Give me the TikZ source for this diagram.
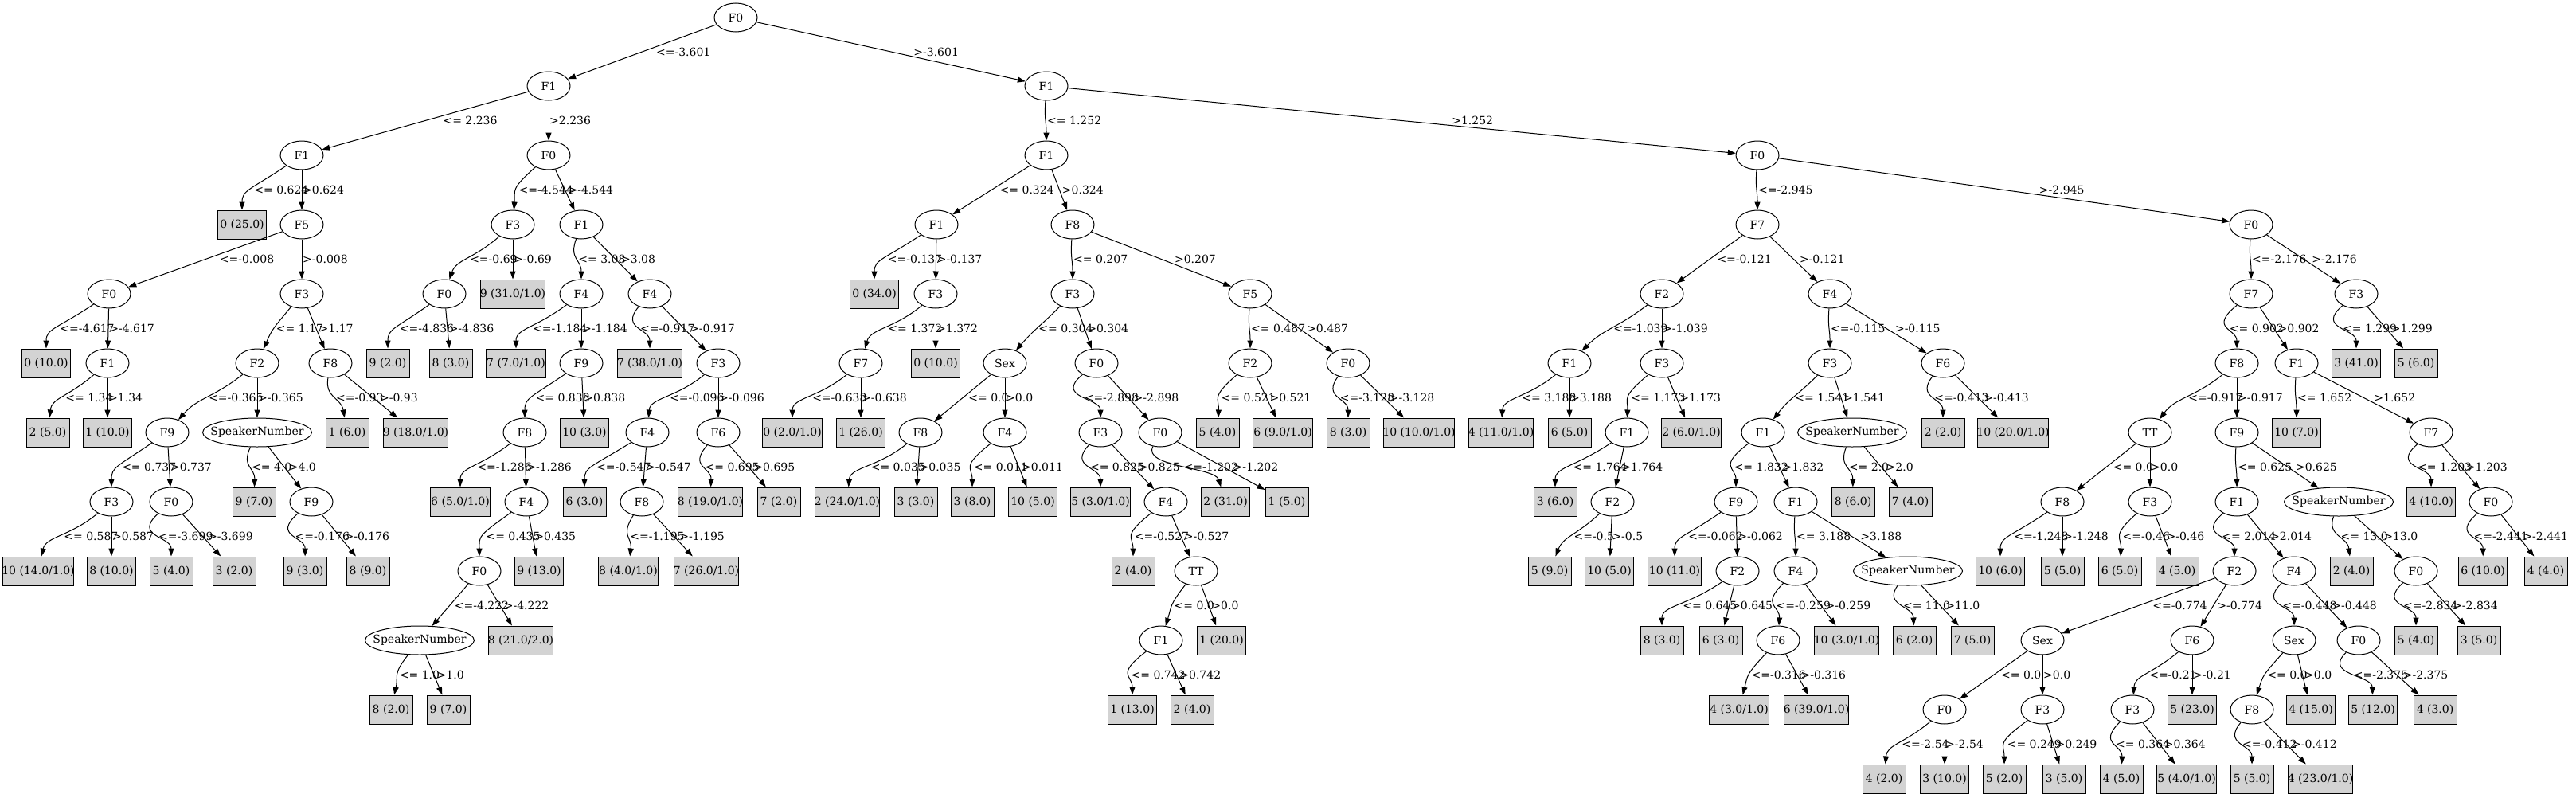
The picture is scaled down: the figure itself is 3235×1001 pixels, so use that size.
\documentclass[tikz,border=0pt]{standalone}
\usepackage{fontspec}
\setmainfont{DejaVu Serif}
\newfontfamily\timesfont{Liberation Serif}
\usetikzlibrary{arrows.meta,shapes.geometric,calc}
\definecolor{leafgray}{HTML}{D3D3D3}
\newlength\leafw
\newdimen\labw
\newcommand\leaftext[1]{\settowidth\leafw{\timesfont #1}\makebox[\dimexpr\leafw+16pt\relax]{#1}}
\newcommand\treefork[5]{%
  \pgfinterruptpicture\setbox0=\hbox{\timesfont\fontsize{14}{17}\selectfont #4}\global\labw=\wd0 \endpgfinterruptpicture
  \path let \p1=(#1), \p2=(#2), \p3=(#3),
    \n1={abs(\x2-\x1)/abs(\y2-\y1)},
    \n2={abs(\x3-\x1)/abs(\y3-\y1)},
    \n3={(\x1+\x3)/2+6*\n2},
    \n4={min((\x1+\x2)/2+6*\n1,\n3-\the\labw-10)},
    \n5={min((\x1+\x2)/2,\n4-1)},
    \n8={min(1,((\x1+\x2)/2-\n5)/20)},
    \n9={\x2+(1-\n8)*(\x1-\x2)/2},
    \n6={\n5+((\n5-\x1)+(\n5-\x2))/3+(\n5-\n9)},
    \n7={(\y1+\y2)/2}
  in (\n6,\n7) coordinate (qa) (\n9,\n7) coordinate (qb) (\n4,\n7) coordinate (lw) (\n3,\n7) coordinate (rw);
  \draw[branch] (#1) .. controls (qa) and (qb) .. (#2);
  \draw[branch] (#1) -- (#3);
  \node[cond] at (lw) {#4};
  \node[cond] at (rw) {#5};}
\begin{document}
\begin{tikzpicture}[x=1pt,y=-1pt,font=\fontsize{14}{17}\selectfont,
  test/.style={draw,ellipse,line width=1pt,minimum width=54pt,minimum height=36pt,inner sep=0pt},
  wide/.style={minimum width=137pt},
  leaf/.style={draw,fill=leafgray,line width=1pt,minimum width=54pt,minimum height=36pt,inner sep=0pt},
  branch/.style={-{Triangle[length=10pt,width=7pt]},line width=1pt},
  cond/.style={right,inner sep=1pt}]
\useasboundingbox (0,0) rectangle (3235,1001);
\node[test] (r) at (924,22) {F0};
\node[test] (rL) at (689,108) {F1};
\node[test] (rR) at (1314,108) {F1};
\node[test] (rLL) at (379,195) {F1};
\node[test] (rLR) at (689,195) {F0};
\node[test] (rRL) at (1314,195) {F1};
\node[test] (rRR) at (2207,195) {F0};
\node[leaf] (rLLL) at (304,282) {\leaftext{0 (25.0)}};
\node[test] (rLLR) at (379,282) {F5};
\node[test] (rLRL) at (644,282) {F3};
\node[test] (rLRR) at (730,282) {F1};
\node[test] (rRLL) at (1176,282) {F1};
\node[test] (rRLR) at (1347,282) {F8};
\node[test] (rRRL) at (2207,282) {F7};
\node[test] (rRRR) at (2827,282) {F0};
\node[test] (rLLRL) at (137,369) {F0};
\node[test] (rLLRR) at (379,369) {F3};
\node[test] (rLRLL) at (558,369) {F0};
\node[leaf] (rLRLR) at (644,369) {\leaftext{9 (31.0/1.0)}};
\node[test] (rLRRL) at (730,369) {F4};
\node[test] (rLRRR) at (816,369) {F4};
\node[leaf] (rRLLL) at (1098,369) {\leaftext{0 (34.0)}};
\node[test] (rRLLR) at (1175,369) {F3};
\node[test] (rRLRL) at (1347,369) {F3};
\node[test] (rRLRR) at (1570,369) {F5};
\node[test] (rRRLL) at (2087,369) {F2};
\node[test] (rRRLR) at (2298,369) {F4};
\node[test] (rRRRL) at (2827,369) {F7};
\node[test] (rRRRR) at (2959,369) {F3};
\node[leaf] (rLLRLL) at (58,456) {\leaftext{0 (10.0)}};
\node[test] (rLLRLR) at (135,456) {F1};
\node[test] (rLLRRL) at (323,456) {F2};
\node[test] (rLLRRR) at (415,456) {F8};
\node[leaf] (rLRLLL) at (487,456) {\leaftext{9 (2.0)}};
\node[leaf] (rLRLLR) at (566,456) {\leaftext{8 (3.0)}};
\node[leaf] (rLRRLL) at (648,456) {\leaftext{7 (7.0/1.0)}};
\node[test] (rLRRLR) at (730,456) {F9};
\node[leaf] (rLRRRL) at (816,456) {\leaftext{7 (38.0/1.0)}};
\node[test] (rLRRRR) at (902,456) {F3};
\node[test] (rRLLRL) at (1081,456) {F7};
\node[leaf] (rRLLRR) at (1175,456) {\leaftext{0 (10.0)}};
\node[test] (rRLRLL) at (1262,456) {Sex};
\node[test] (rRLRLR) at (1377,456) {F0};
\node[test] (rRLRRL) at (1570,456) {F2};
\node[test] (rRLRRR) at (1693,456) {F0};
\node[test] (rRRLLL) at (1971,456) {F1};
\node[test] (rRRLLR) at (2087,456) {F3};
\node[test] (rRRLRL) at (2298,456) {F3};
\node[test] (rRRLRR) at (2440,456) {F6};
\node[test] (rRRRLL) at (2809,456) {F8};
\node[test] (rRRRLR) at (2884,456) {F1};
\node[leaf] (rRRRRL) at (2959,456) {\leaftext{3 (41.0)}};
\node[leaf] (rRRRRR) at (3034,456) {\leaftext{5 (6.0)}};
\node[leaf] (rLLRLRL) at (60,543) {\leaftext{2 (5.0)}};
\node[leaf] (rLLRLRR) at (135,543) {\leaftext{1 (10.0)}};
\node[test] (rLLRRLL) at (210,543) {F9};
\node[test,wide] (rLLRRLR) at (323,543) {\makebox[0pt]{SpeakerNumber}};
\node[leaf] (rLLRRRL) at (436,543) {\leaftext{1 (6.0)}};
\node[leaf] (rLLRRRR) at (522,543) {\leaftext{9 (18.0/1.0)}};
\node[test] (rLRRLRL) at (659,543) {F8};
\node[leaf] (rLRRLRR) at (734,543) {\leaftext{10 (3.0)}};
\node[test] (rLRRRRL) at (813,543) {F4};
\node[test] (rLRRRRR) at (902,543) {F6};
\node[leaf] (rRLLRLL) at (995,543) {\leaftext{0 (2.0/1.0)}};
\node[leaf] (rRLLRLR) at (1081,543) {\leaftext{1 (26.0)}};
\node[test] (rRLRLLL) at (1156,543) {F8};
\node[test] (rRLRLLR) at (1262,543) {F4};
\node[test] (rRLRLRL) at (1382,543) {F3};
\node[test] (rRLRLRR) at (1457,543) {F0};
\node[leaf] (rRLRRLL) at (1529,543) {\leaftext{5 (4.0)}};
\node[leaf] (rRLRRLR) at (1611,543) {\leaftext{6 (9.0/1.0)}};
\node[leaf] (rRLRRRL) at (1693,543) {\leaftext{8 (3.0)}};
\node[leaf] (rRLRRRR) at (1782,543) {\leaftext{10 (10.0/1.0)}};
\node[leaf] (rRRLLLL) at (1885,543) {\leaftext{4 (11.0/1.0)}};
\node[leaf] (rRRLLLR) at (1971,543) {\leaftext{6 (5.0)}};
\node[test] (rRRLLRL) at (2043,543) {F1};
\node[leaf] (rRRLLRR) at (2124,543) {\leaftext{2 (6.0/1.0)}};
\node[test] (rRRLRLL) at (2214,543) {F1};
\node[test,wide] (rRRLRLR) at (2326,543) {\makebox[0pt]{SpeakerNumber}};
\node[leaf] (rRRLRRL) at (2440,543) {\leaftext{2 (2.0)}};
\node[leaf] (rRRLRRR) at (2528,543) {\leaftext{10 (20.0/1.0)}};
\node[test] (rRRRLLL) at (2700,543) {TT};
\node[test] (rRRRLLR) at (2809,543) {F9};
\node[leaf] (rRRRLRL) at (2884,543) {\leaftext{10 (7.0)}};
\node[test] (rRRRLRR) at (3053,543) {F7};
\node[test] (rLLRRLLL) at (140,630) {F3};
\node[test] (rLLRRLLR) at (215,630) {F0};
\node[leaf] (rLLRRLRL) at (319,630) {\leaftext{9 (7.0)}};
\node[test] (rLLRRLRR) at (391,630) {F9};
\node[leaf] (rLRRLRLL) at (578,630) {\leaftext{6 (5.0/1.0)}};
\node[test] (rLRRLRLR) at (661,630) {F4};
\node[leaf] (rLRRRRLL) at (734,630) {\leaftext{6 (3.0)}};
\node[test] (rLRRRRLR) at (806,630) {F8};
\node[leaf] (rLRRRRRL) at (892,630) {\leaftext{8 (19.0/1.0)}};
\node[leaf] (rLRRRRRR) at (978,630) {\leaftext{7 (2.0)}};
\node[leaf] (rRLRLLLL) at (1064,630) {\leaftext{2 (24.0/1.0)}};
\node[leaf] (rRLRLLLR) at (1150,630) {\leaftext{3 (3.0)}};
\node[leaf] (rRLRLLRL) at (1221,630) {\leaftext{3 (8.0)}};
\node[leaf] (rRLRLLRR) at (1297,630) {\leaftext{10 (5.0)}};
\node[leaf] (rRLRLRLL) at (1382,630) {\leaftext{5 (3.0/1.0)}};
\node[test] (rRLRLRLR) at (1464,630) {F4};
\node[leaf] (rRLRLRRL) at (1539,630) {\leaftext{2 (31.0)}};
\node[leaf] (rRLRLRRR) at (1616,630) {\leaftext{1 (5.0)}};
\node[leaf] (rRRLLRLL) at (1953,630) {\leaftext{3 (6.0)}};
\node[test] (rRRLLRLR) at (2025,630) {F2};
\node[test] (rRRLRLLL) at (2180,630) {F9};
\node[test] (rRRLRLLR) at (2255,630) {F1};
\node[leaf] (rRRLRLRL) at (2327,630) {\leaftext{8 (6.0)}};
\node[leaf] (rRRLRLRR) at (2399,630) {\leaftext{7 (4.0)}};
\node[test] (rRRRLLLL) at (2590,630) {F8};
\node[test] (rRRRLLLR) at (2700,630) {F3};
\node[test] (rRRRLLRL) at (2809,630) {F1};
\node[test,wide] (rRRRLLRR) at (2937,630) {\makebox[0pt]{SpeakerNumber}};
\node[leaf] (rRRRLRRL) at (3053,630) {\leaftext{4 (10.0)}};
\node[test] (rRRRLRRR) at (3128,630) {F0};
\node[leaf] (rLLRRLLLL) at (48,717) {\leaftext{10 (14.0/1.0)}};
\node[leaf] (rLLRRLLLR) at (140,717) {\leaftext{8 (10.0)}};
\node[leaf] (rLLRRLLRL) at (215,717) {\leaftext{5 (4.0)}};
\node[leaf] (rLLRRLLRR) at (294,717) {\leaftext{3 (2.0)}};
\node[leaf] (rLLRRLRRL) at (383,717) {\leaftext{9 (3.0)}};
\node[leaf] (rLLRRLRRR) at (462,717) {\leaftext{8 (9.0)}};
\node[test] (rLRRLRLRL) at (602,717) {F0};
\node[leaf] (rLRRLRLRR) at (677,717) {\leaftext{9 (13.0)}};
\node[leaf] (rLRRRRLRL) at (789,717) {\leaftext{8 (4.0/1.0)}};
\node[leaf] (rLRRRRLRR) at (887,717) {\leaftext{7 (26.0/1.0)}};
\node[leaf] (rRLRLRLRL) at (1423,717) {\leaftext{2 (4.0)}};
\node[test] (rRLRLRLRR) at (1502,717) {TT};
\node[leaf] (rRRLLRLRL) at (1946,717) {\leaftext{5 (9.0)}};
\node[leaf] (rRRLLRLRR) at (2021,717) {\leaftext{10 (5.0)}};
\node[leaf] (rRRLRLLLL) at (2103,717) {\leaftext{10 (11.0)}};
\node[test] (rRRLRLLLR) at (2182,717) {F2};
\node[test] (rRRLRLLRL) at (2255,717) {F4};
\node[test,wide] (rRRLRLLRR) at (2396,717) {\makebox[0pt]{SpeakerNumber}};
\node[leaf] (rRRRLLLLL) at (2512,717) {\leaftext{10 (6.0)}};
\node[leaf] (rRRRLLLLR) at (2590,717) {\leaftext{5 (5.0)}};
\node[leaf] (rRRRLLLRL) at (2662,717) {\leaftext{6 (5.0)}};
\node[leaf] (rRRRLLLRR) at (2734,717) {\leaftext{4 (5.0)}};
\node[test] (rRRRLLRLL) at (2806,717) {F2};
\node[test] (rRRRLLRLR) at (2881,717) {F4};
\node[leaf] (rRRRLLRRL) at (2953,717) {\leaftext{2 (4.0)}};
\node[test] (rRRRLLRRR) at (3034,717) {F0};
\node[leaf] (rRRRLRRRL) at (3118,717) {\leaftext{6 (10.0)}};
\node[leaf] (rRRRLRRRR) at (3197,717) {\leaftext{4 (4.0)}};
\node[test,wide] (rLRRLRLRLL) at (527,804) {\makebox[0pt]{SpeakerNumber}};
\node[leaf] (rLRRLRLRLR) at (654,804) {\leaftext{8 (21.0/2.0)}};
\node[test] (rRLRLRLRRL) at (1458,804) {F1};
\node[leaf] (rRLRLRLRRR) at (1534,804) {\leaftext{1 (20.0)}};
\node[leaf] (rRRLRLLLRL) at (2087,804) {\leaftext{8 (3.0)}};
\node[leaf] (rRRLRLLLRR) at (2161,804) {\leaftext{6 (3.0)}};
\node[test] (rRRLRLLRLL) at (2233,804) {F6};
\node[leaf] (rRRLRLLRLR) at (2319,804) {\leaftext{10 (3.0/1.0)}};
\node[leaf] (rRRLRLLRRL) at (2404,804) {\leaftext{6 (2.0)}};
\node[leaf] (rRRLRLLRRR) at (2477,804) {\leaftext{7 (5.0)}};
\node[test] (rRRRLLRLLL) at (2565,804) {Sex};
\node[test] (rRRRLLRLLR) at (2753,804) {F6};
\node[test] (rRRRLLRLRL) at (2881,804) {Sex};
\node[test] (rRRRLLRLRR) at (2962,804) {F0};
\node[leaf] (rRRRLLRRRL) at (3034,804) {\leaftext{5 (4.0)}};
\node[leaf] (rRRRLLRRRR) at (3113,804) {\leaftext{3 (5.0)}};
\node[leaf] (rLRRLRLRLLL) at (491,891) {\leaftext{8 (2.0)}};
\node[leaf] (rLRRLRLRLLR) at (563,891) {\leaftext{9 (7.0)}};
\node[leaf] (rRLRLRLRRLL) at (1422,891) {\leaftext{1 (13.0)}};
\node[leaf] (rRLRLRLRRLR) at (1497,891) {\leaftext{2 (4.0)}};
\node[leaf] (rRRLRLLRLLL) at (2184,891) {\leaftext{4 (3.0/1.0)}};
\node[leaf] (rRRLRLLRLLR) at (2281,891) {\leaftext{6 (39.0/1.0)}};
\node[test] (rRRRLLRLLLL) at (2442,891) {F0};
\node[test] (rRRRLLRLLLR) at (2565,891) {F3};
\node[test] (rRRRLLRLLRL) at (2678,891) {F3};
\node[leaf] (rRRRLLRLLRR) at (2753,891) {\leaftext{5 (23.0)}};
\node[test] (rRRRLLRLRLL) at (2828,891) {F8};
\node[leaf] (rRRRLLRLRLR) at (2902,891) {\leaftext{4 (15.0)}};
\node[leaf] (rRRRLLRLRRL) at (2980,891) {\leaftext{5 (12.0)}};
\node[leaf] (rRRRLLRLRRR) at (3058,891) {\leaftext{4 (3.0)}};
\node[leaf] (rRRRLLRLLLLL) at (2366,978) {\leaftext{4 (2.0)}};
\node[leaf] (rRRRLLRLLLLR) at (2442,978) {\leaftext{3 (10.0)}};
\node[leaf] (rRRRLLRLLLRL) at (2517,978) {\leaftext{5 (2.0)}};
\node[leaf] (rRRRLLRLLLRR) at (2592,978) {\leaftext{3 (5.0)}};
\node[leaf] (rRRRLLRLLRLL) at (2664,978) {\leaftext{4 (5.0)}};
\node[leaf] (rRRRLLRLLRLR) at (2746,978) {\leaftext{5 (4.0/1.0)}};
\node[leaf] (rRRRLLRLRLLL) at (2828,978) {\leaftext{5 (5.0)}};
\node[leaf] (rRRRLLRLRLLR) at (2914,978) {\leaftext{4 (23.0/1.0)}};
\treefork{r}{rL}{rR}{<=-3.601}{>-3.601}
\treefork{rL}{rLL}{rLR}{<= 2.236}{>2.236}
\treefork{rR}{rRL}{rRR}{<= 1.252}{>1.252}
\treefork{rLL}{rLLL}{rLLR}{<= 0.624}{>0.624}
\treefork{rLR}{rLRL}{rLRR}{<=-4.544}{>-4.544}
\treefork{rRL}{rRLL}{rRLR}{<= 0.324}{>0.324}
\treefork{rRR}{rRRL}{rRRR}{<=-2.945}{>-2.945}
\treefork{rLLR}{rLLRL}{rLLRR}{<=-0.008}{>-0.008}
\treefork{rLRL}{rLRLL}{rLRLR}{<=-0.69}{>-0.69}
\treefork{rLRR}{rLRRL}{rLRRR}{<= 3.08}{>3.08}
\treefork{rRLL}{rRLLL}{rRLLR}{<=-0.137}{>-0.137}
\treefork{rRLR}{rRLRL}{rRLRR}{<= 0.207}{>0.207}
\treefork{rRRL}{rRRLL}{rRRLR}{<=-0.121}{>-0.121}
\treefork{rRRR}{rRRRL}{rRRRR}{<=-2.176}{>-2.176}
\treefork{rLLRL}{rLLRLL}{rLLRLR}{<=-4.617}{>-4.617}
\treefork{rLLRR}{rLLRRL}{rLLRRR}{<= 1.17}{>1.17}
\treefork{rLRLL}{rLRLLL}{rLRLLR}{<=-4.836}{>-4.836}
\treefork{rLRRL}{rLRRLL}{rLRRLR}{<=-1.184}{>-1.184}
\treefork{rLRRR}{rLRRRL}{rLRRRR}{<=-0.917}{>-0.917}
\treefork{rRLLR}{rRLLRL}{rRLLRR}{<= 1.372}{>1.372}
\treefork{rRLRL}{rRLRLL}{rRLRLR}{<= 0.304}{>0.304}
\treefork{rRLRR}{rRLRRL}{rRLRRR}{<= 0.487}{>0.487}
\treefork{rRRLL}{rRRLLL}{rRRLLR}{<=-1.039}{>-1.039}
\treefork{rRRLR}{rRRLRL}{rRRLRR}{<=-0.115}{>-0.115}
\treefork{rRRRL}{rRRRLL}{rRRRLR}{<= 0.902}{>0.902}
\treefork{rRRRR}{rRRRRL}{rRRRRR}{<= 1.299}{>1.299}
\treefork{rLLRLR}{rLLRLRL}{rLLRLRR}{<= 1.34}{>1.34}
\treefork{rLLRRL}{rLLRRLL}{rLLRRLR}{<=-0.365}{>-0.365}
\treefork{rLLRRR}{rLLRRRL}{rLLRRRR}{<=-0.93}{>-0.93}
\treefork{rLRRLR}{rLRRLRL}{rLRRLRR}{<= 0.838}{>0.838}
\treefork{rLRRRR}{rLRRRRL}{rLRRRRR}{<=-0.096}{>-0.096}
\treefork{rRLLRL}{rRLLRLL}{rRLLRLR}{<=-0.638}{>-0.638}
\treefork{rRLRLL}{rRLRLLL}{rRLRLLR}{<= 0.0}{>0.0}
\treefork{rRLRLR}{rRLRLRL}{rRLRLRR}{<=-2.898}{>-2.898}
\treefork{rRLRRL}{rRLRRLL}{rRLRRLR}{<= 0.521}{>0.521}
\treefork{rRLRRR}{rRLRRRL}{rRLRRRR}{<=-3.128}{>-3.128}
\treefork{rRRLLL}{rRRLLLL}{rRRLLLR}{<= 3.188}{>3.188}
\treefork{rRRLLR}{rRRLLRL}{rRRLLRR}{<= 1.173}{>1.173}
\treefork{rRRLRL}{rRRLRLL}{rRRLRLR}{<= 1.541}{>1.541}
\treefork{rRRLRR}{rRRLRRL}{rRRLRRR}{<=-0.413}{>-0.413}
\treefork{rRRRLL}{rRRRLLL}{rRRRLLR}{<=-0.917}{>-0.917}
\treefork{rRRRLR}{rRRRLRL}{rRRRLRR}{<= 1.652}{>1.652}
\treefork{rLLRRLL}{rLLRRLLL}{rLLRRLLR}{<= 0.737}{>0.737}
\treefork{rLLRRLR}{rLLRRLRL}{rLLRRLRR}{<= 4.0}{>4.0}
\treefork{rLRRLRL}{rLRRLRLL}{rLRRLRLR}{<=-1.286}{>-1.286}
\treefork{rLRRRRL}{rLRRRRLL}{rLRRRRLR}{<=-0.547}{>-0.547}
\treefork{rLRRRRR}{rLRRRRRL}{rLRRRRRR}{<= 0.695}{>0.695}
\treefork{rRLRLLL}{rRLRLLLL}{rRLRLLLR}{<= 0.035}{>0.035}
\treefork{rRLRLLR}{rRLRLLRL}{rRLRLLRR}{<= 0.011}{>0.011}
\treefork{rRLRLRL}{rRLRLRLL}{rRLRLRLR}{<= 0.825}{>0.825}
\treefork{rRLRLRR}{rRLRLRRL}{rRLRLRRR}{<=-1.202}{>-1.202}
\treefork{rRRLLRL}{rRRLLRLL}{rRRLLRLR}{<= 1.764}{>1.764}
\treefork{rRRLRLL}{rRRLRLLL}{rRRLRLLR}{<= 1.832}{>1.832}
\treefork{rRRLRLR}{rRRLRLRL}{rRRLRLRR}{<= 2.0}{>2.0}
\treefork{rRRRLLL}{rRRRLLLL}{rRRRLLLR}{<= 0.0}{>0.0}
\treefork{rRRRLLR}{rRRRLLRL}{rRRRLLRR}{<= 0.625}{>0.625}
\treefork{rRRRLRR}{rRRRLRRL}{rRRRLRRR}{<= 1.203}{>1.203}
\treefork{rLLRRLLL}{rLLRRLLLL}{rLLRRLLLR}{<= 0.587}{>0.587}
\treefork{rLLRRLLR}{rLLRRLLRL}{rLLRRLLRR}{<=-3.699}{>-3.699}
\treefork{rLLRRLRR}{rLLRRLRRL}{rLLRRLRRR}{<=-0.176}{>-0.176}
\treefork{rLRRLRLR}{rLRRLRLRL}{rLRRLRLRR}{<= 0.435}{>0.435}
\treefork{rLRRRRLR}{rLRRRRLRL}{rLRRRRLRR}{<=-1.195}{>-1.195}
\treefork{rRLRLRLR}{rRLRLRLRL}{rRLRLRLRR}{<=-0.527}{>-0.527}
\treefork{rRRLLRLR}{rRRLLRLRL}{rRRLLRLRR}{<=-0.5}{>-0.5}
\treefork{rRRLRLLL}{rRRLRLLLL}{rRRLRLLLR}{<=-0.062}{>-0.062}
\treefork{rRRLRLLR}{rRRLRLLRL}{rRRLRLLRR}{<= 3.188}{>3.188}
\treefork{rRRRLLLL}{rRRRLLLLL}{rRRRLLLLR}{<=-1.248}{>-1.248}
\treefork{rRRRLLLR}{rRRRLLLRL}{rRRRLLLRR}{<=-0.46}{>-0.46}
\treefork{rRRRLLRL}{rRRRLLRLL}{rRRRLLRLR}{<= 2.014}{>2.014}
\treefork{rRRRLLRR}{rRRRLLRRL}{rRRRLLRRR}{<= 13.0}{>13.0}
\treefork{rRRRLRRR}{rRRRLRRRL}{rRRRLRRRR}{<=-2.441}{>-2.441}
\treefork{rLRRLRLRL}{rLRRLRLRLL}{rLRRLRLRLR}{<=-4.222}{>-4.222}
\treefork{rRLRLRLRR}{rRLRLRLRRL}{rRLRLRLRRR}{<= 0.0}{>0.0}
\treefork{rRRLRLLLR}{rRRLRLLLRL}{rRRLRLLLRR}{<= 0.645}{>0.645}
\treefork{rRRLRLLRL}{rRRLRLLRLL}{rRRLRLLRLR}{<=-0.259}{>-0.259}
\treefork{rRRLRLLRR}{rRRLRLLRRL}{rRRLRLLRRR}{<= 11.0}{>11.0}
\treefork{rRRRLLRLL}{rRRRLLRLLL}{rRRRLLRLLR}{<=-0.774}{>-0.774}
\treefork{rRRRLLRLR}{rRRRLLRLRL}{rRRRLLRLRR}{<=-0.448}{>-0.448}
\treefork{rRRRLLRRR}{rRRRLLRRRL}{rRRRLLRRRR}{<=-2.834}{>-2.834}
\treefork{rLRRLRLRLL}{rLRRLRLRLLL}{rLRRLRLRLLR}{<= 1.0}{>1.0}
\treefork{rRLRLRLRRL}{rRLRLRLRRLL}{rRLRLRLRRLR}{<= 0.742}{>0.742}
\treefork{rRRLRLLRLL}{rRRLRLLRLLL}{rRRLRLLRLLR}{<=-0.316}{>-0.316}
\treefork{rRRRLLRLLL}{rRRRLLRLLLL}{rRRRLLRLLLR}{<= 0.0}{>0.0}
\treefork{rRRRLLRLLR}{rRRRLLRLLRL}{rRRRLLRLLRR}{<=-0.21}{>-0.21}
\treefork{rRRRLLRLRL}{rRRRLLRLRLL}{rRRRLLRLRLR}{<= 0.0}{>0.0}
\treefork{rRRRLLRLRR}{rRRRLLRLRRL}{rRRRLLRLRRR}{<=-2.375}{>-2.375}
\treefork{rRRRLLRLLLL}{rRRRLLRLLLLL}{rRRRLLRLLLLR}{<=-2.54}{>-2.54}
\treefork{rRRRLLRLLLR}{rRRRLLRLLLRL}{rRRRLLRLLLRR}{<= 0.249}{>0.249}
\treefork{rRRRLLRLLRL}{rRRRLLRLLRLL}{rRRRLLRLLRLR}{<= 0.364}{>0.364}
\treefork{rRRRLLRLRLL}{rRRRLLRLRLLL}{rRRRLLRLRLLR}{<=-0.412}{>-0.412}
\end{tikzpicture}
\end{document}
